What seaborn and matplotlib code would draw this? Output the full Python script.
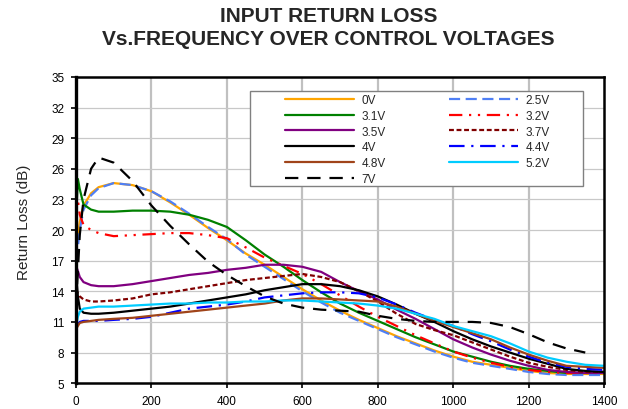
import numpy as np
import pandas as pd
import matplotlib
matplotlib.use("Agg")
import matplotlib.pyplot as plt
from matplotlib.patches import Rectangle
import seaborn as sns

# frequency (MHz)
freq = [0, 5, 10, 20, 40, 60, 100,
        150, 200, 250, 300, 350, 400, 450, 500, 550, 600, 650, 700, 750, 800,
        850, 900, 950, 1000, 1050, 1100, 1150, 1200, 1250, 1300, 1350, 1400]

# return loss (dB) per control voltage
rl_0v = [18.5, 19.5, 20.8, 22.4, 23.6, 24.2, 24.6,
         24.4, 23.8, 22.7, 21.5, 20.2, 19.0, 17.7, 16.6, 15.4, 14.2, 13.1, 12.1, 11.2, 10.4,
         9.6, 8.9, 8.2, 7.6, 7.1, 6.8, 6.5, 6.2, 6.0, 5.9, 5.9, 5.9]
rl_2v5 = [17.0, 18.3, 20.0, 22.0, 23.4, 24.1, 24.6,
          24.4, 23.8, 22.8, 21.6, 20.3, 19.1, 17.6, 16.4, 15.2, 14.0, 12.9, 11.9, 11.1, 10.3,
          9.5, 8.8, 8.1, 7.5, 7.0, 6.7, 6.4, 6.1, 5.9, 5.8, 5.8, 5.8]
rl_3v1 = [21.0, 25.0, 24.0, 22.5, 22.0, 21.8, 21.8,
          21.9, 21.9, 21.8, 21.5, 21.0, 20.3, 19.0, 17.6, 16.4, 15.1, 13.9, 12.8, 11.9, 11.1,
          10.3, 9.5, 8.8, 8.1, 7.6, 7.1, 6.7, 6.4, 6.2, 6.0, 6.0, 6.0]
rl_3v2 = [20.5, 23.0, 21.5, 20.5, 20.0, 19.7, 19.4,
          19.5, 19.6, 19.7, 19.7, 19.5, 19.2, 18.3, 17.3, 16.5, 15.7, 14.7, 13.6, 12.5, 11.5,
          10.6, 9.7, 8.9, 8.1, 7.5, 7.0, 6.6, 6.3, 6.1, 6.0, 6.0, 6.0]
rl_3v5 = [16.5, 16.0, 15.4, 14.9, 14.6, 14.5, 14.5,
          14.7, 15.0, 15.3, 15.6, 15.8, 16.1, 16.3, 16.6, 16.6, 16.4, 15.9, 14.9, 14.0, 13.2,
          12.2, 11.3, 10.3, 9.3, 8.5, 7.8, 7.2, 6.7, 6.3, 6.1, 6.0, 6.0]
rl_3v7 = [14.2, 13.8, 13.5, 13.2, 13.0, 13.0, 13.1,
          13.3, 13.7, 13.9, 14.2, 14.5, 14.8, 15.1, 15.3, 15.5, 15.7, 15.4, 14.9, 14.0, 13.0,
          11.8, 10.8, 10.2, 9.7, 9.0, 8.3, 7.6, 7.0, 6.6, 6.3, 6.1, 6.1]
rl_4v = [15.8, 13.5, 12.3, 11.9, 11.8, 11.8, 11.9,
         12.1, 12.3, 12.5, 12.8, 13.1, 13.4, 13.7, 14.1, 14.4, 14.7, 14.7, 14.5, 14.1, 13.5,
         12.7, 11.8, 11.0, 10.1, 9.3, 8.6, 8.0, 7.4, 6.9, 6.4, 6.2, 6.1]
rl_4v4 = [10.5, 10.8, 11.0, 11.1, 11.1, 11.1, 11.2,
          11.3, 11.5, 11.9, 12.3, 12.5, 12.7, 13.0, 13.4, 13.6, 13.8, 13.9, 13.9, 13.8, 13.4,
          12.7, 11.9, 11.2, 10.6, 9.8, 9.1, 8.3, 7.6, 7.0, 6.6, 6.4, 6.3]
rl_4v8 = [10.3, 10.6, 10.9, 11.0, 11.1, 11.2, 11.3,
          11.4, 11.6, 11.8, 12.0, 12.2, 12.4, 12.6, 12.8, 13.1, 13.3, 13.3, 13.2, 13.1, 13.0,
          12.5, 11.8, 11.1, 10.5, 9.9, 9.3, 8.5, 7.8, 7.2, 6.7, 6.6, 6.5]
rl_5v2 = [10.5, 11.5, 12.0, 12.3, 12.4, 12.5, 12.5,
          12.6, 12.7, 12.8, 12.8, 12.9, 12.9, 13.0, 13.0, 13.1, 13.1, 13.0, 12.9, 12.8, 12.6,
          12.3, 11.8, 11.3, 10.6, 10.1, 9.6, 8.9, 8.1, 7.5, 7.1, 6.8, 6.7]
rl_7v = [12.5, 16.0, 19.5, 23.0, 26.0, 27.1, 26.6,
         24.8, 22.4, 20.4, 18.6, 16.9, 15.6, 14.5, 13.5, 12.8, 12.4, 12.2, 12.1, 12.0, 11.6,
         11.3, 11.1, 11.0, 11.0, 11.0, 10.9, 10.5, 9.8, 9.0, 8.4, 8.0, np.nan]

labels = ["0V", "2.5V", "3.1V", "3.2V", "3.5V", "3.7V", "4V", "4.4V", "4.8V", "5.2V", "7V"]
series = [rl_0v, rl_2v5, rl_3v1, rl_3v2, rl_3v5, rl_3v7, rl_4v, rl_4v4, rl_4v8, rl_5v2, rl_7v]

colors = ["#FFA500", "#4F7FF5", "#008000", "#FF0000", "#800080", "#800000",
          "#000000", "#0000FF", "#A0441A", "#00CCFF", "#000000"]
styles = ["-", (0, (5, 2.5)), "-", (0, (6, 3, 1, 3, 1, 3)), "-", (0, (2.2, 1.2)),
          "-", (0, (7, 3, 1, 3)), "-", "-", (0, (6, 4))]

sns.set_style("white")
plt.rcParams['font.family'] = ['Liberation Sans', 'DejaVu Sans']

fig = plt.figure(figsize=(6.28, 4.10), dpi=100)
ax = fig.add_axes([0.121, 0.063, 0.841, 0.747])

# grid first
for xv in range(200, 1400, 200):
    ax.axvline(xv, color="#c0c0c0", lw=1.6, zorder=0)
for yv in range(8, 35, 3):
    ax.axhline(yv, color="#c8c8c8", lw=0.9, zorder=0)

handles = []
for lab, vals, c, ls in zip(labels, series, colors, styles):
    df = pd.DataFrame({"freq": freq, "rl": vals}).dropna()
    sns.lineplot(data=df, x="freq", y="rl", ax=ax, color=c, lw=1.6,
                 estimator=None, sort=False)
    line = ax.lines[-1]
    line.set_linestyle(ls)
    line.set_label(lab)
    handles.append(line)

ax.set_xlim(0, 1400)
ax.set_ylim(5, 35)
ax.set_xticks(range(0, 1401, 200))
ax.set_yticks(range(5, 36, 3))
ax.tick_params(axis="both", labelsize=8.5, direction="out", length=3.5, width=1.2,
               colors="black", left=True, bottom=True, pad=5)
for sp in ax.spines.values():
    sp.set_color("black")
    sp.set_linewidth(1.8)
ax.spines["left"].set_linewidth(2.4)

ax.set_xlabel("")
ax.set_ylabel("Return Loss (dB)", fontsize=11)
ax.yaxis.set_label_coords(-0.085, 0.53)

# legend box (excel style, wide left padding)
box = Rectangle((0.3295, 0.644), 0.6307, 0.310, transform=ax.transAxes,
                facecolor="white", edgecolor="#808080", lw=1.0, zorder=4)
ax.add_patch(box)

# matplotlib fills columns first, reorder to keep the row order
order = [0, 2, 4, 6, 8, 10, 1, 3, 5, 7, 9]
leg = ax.legend([handles[i] for i in order], [labels[i] for i in order],
                ncol=2, loc="upper left", bbox_to_anchor=(0.396, 0.944),
                fontsize=8.5, handlelength=5.8, handletextpad=0.65,
                columnspacing=5.4, labelspacing=0.32, borderpad=0,
                borderaxespad=0, frameon=False)
leg.set_zorder(5)

fig.suptitle("INPUT RETURN LOSS\nVs.FREQUENCY OVER CONTROL VOLTAGES",
             x=0.523, y=0.983, va="top", fontsize=15, fontweight="bold",
             linespacing=1.3)

fig.savefig("out.png", dpi=100)
